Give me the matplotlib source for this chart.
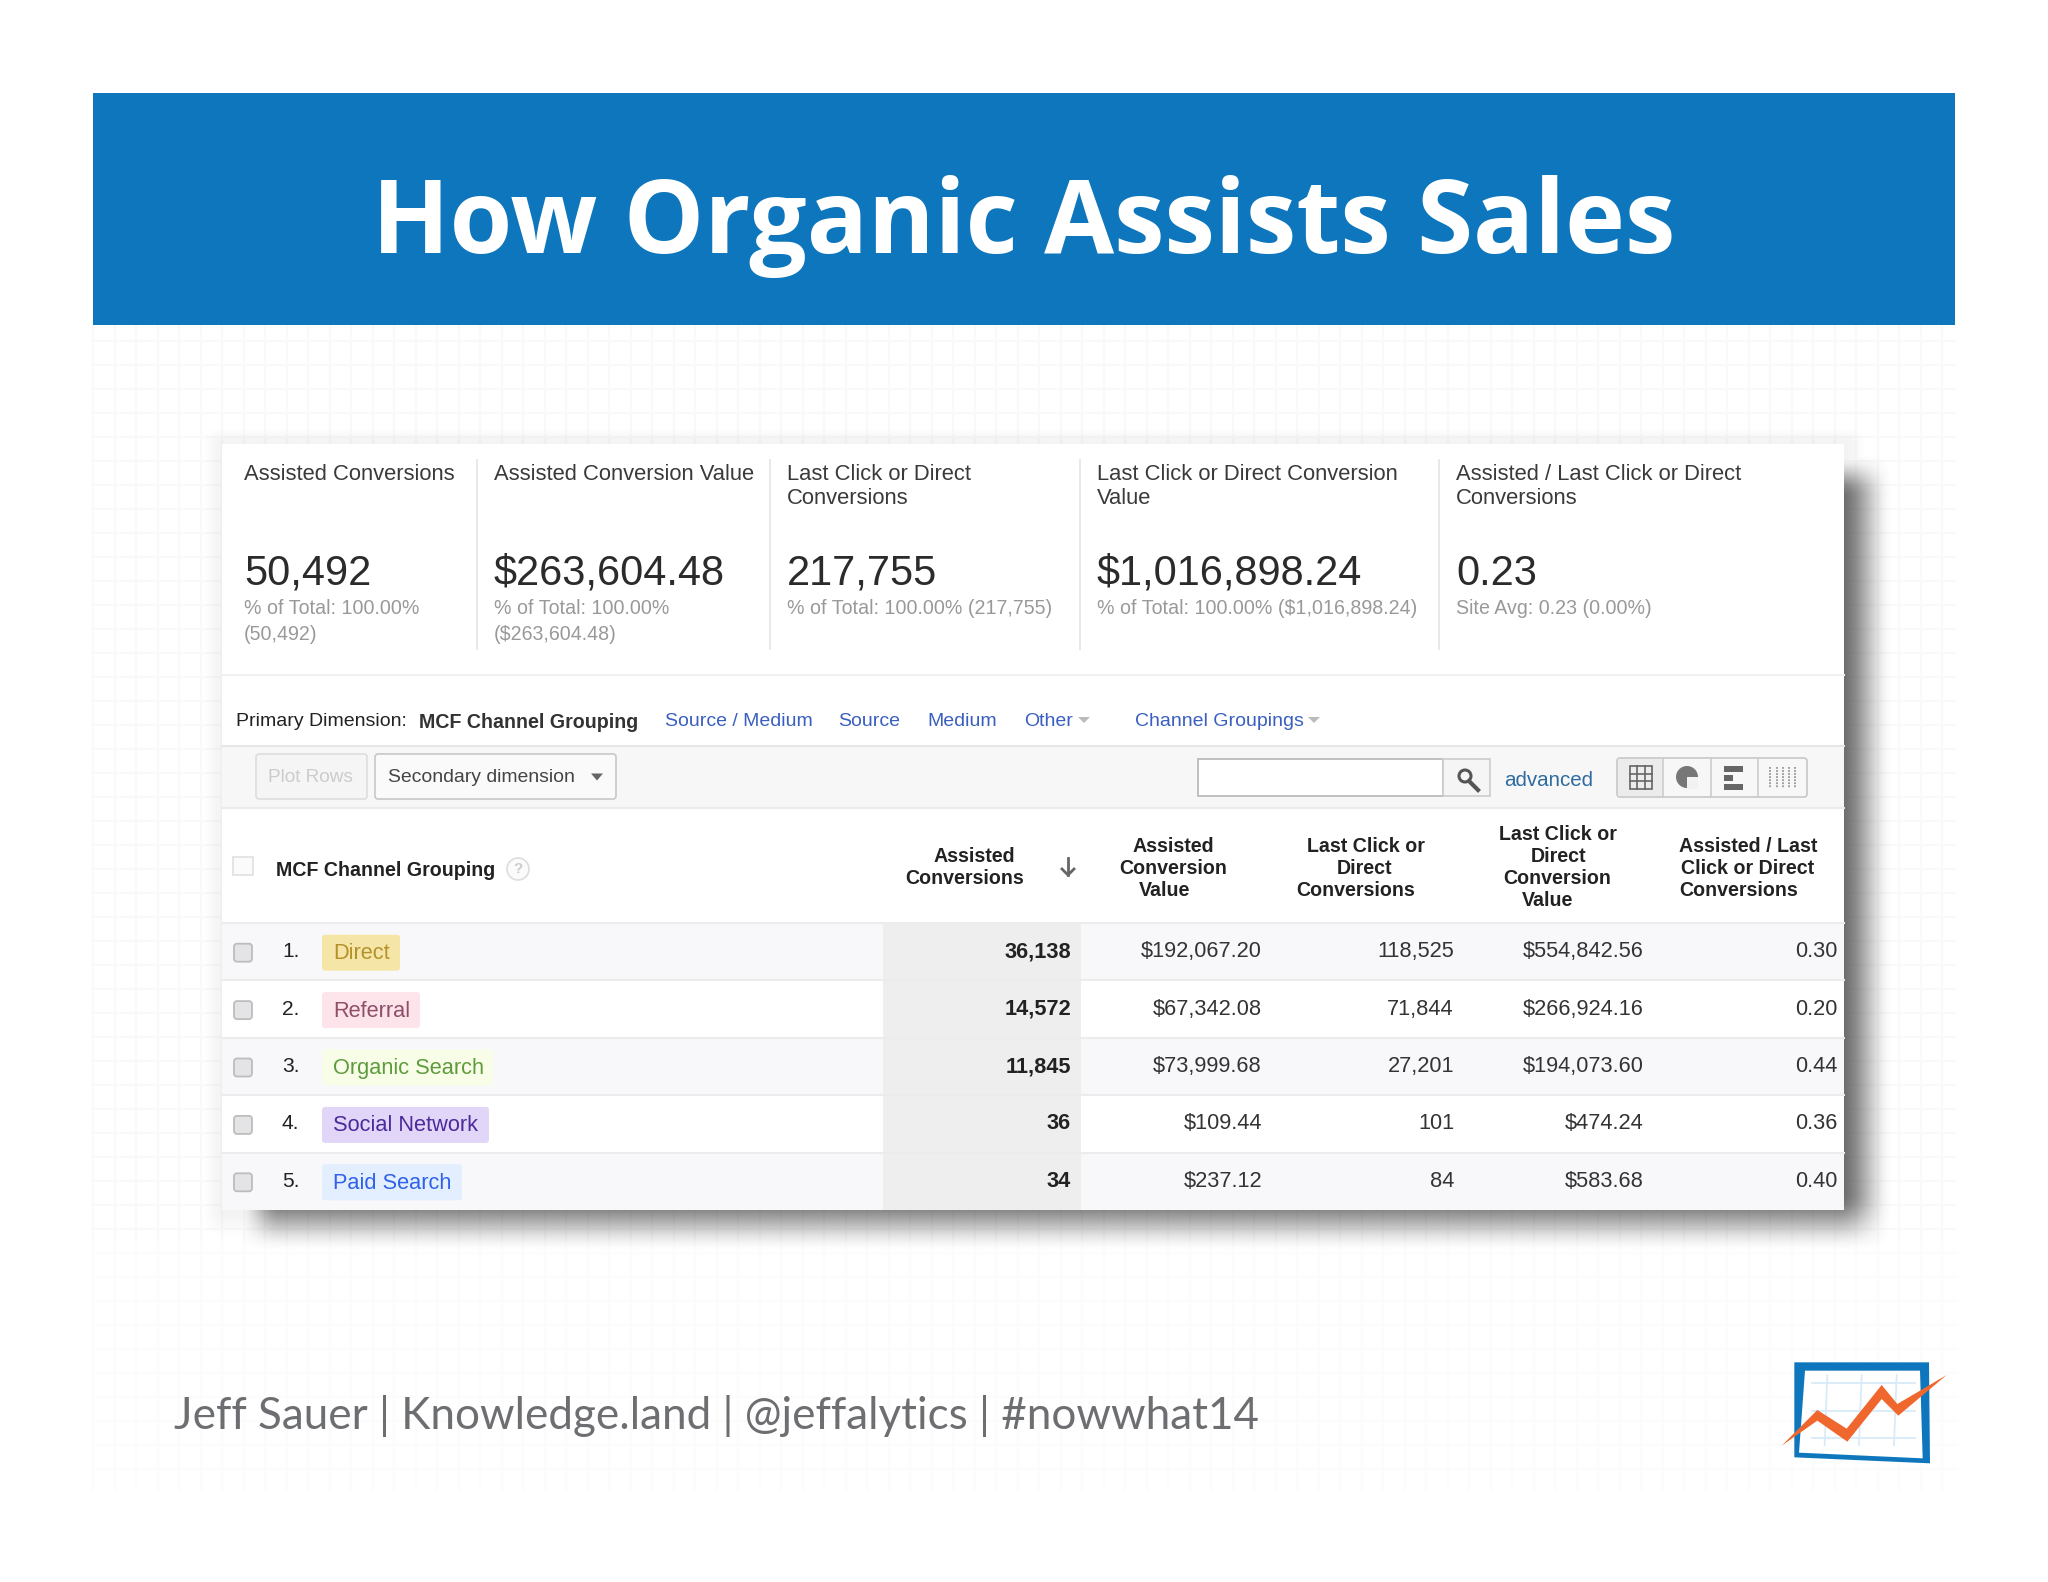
import numpy as np
import matplotlib
matplotlib.use('Agg')
import matplotlib.pyplot as plt
from matplotlib.patches import Rectangle, Polygon, FancyBboxPatch, Circle

# KPI strip
kpi_labels = [['Assisted Conversions'], ['Assisted Conversion Value'], ['Last Click or Direct', 'Conversions'],
              ['Last Click or Direct Conversion', 'Value'], ['Assisted / Last Click or Direct', 'Conversions']]
kpi_values = ['50,492', '$263,604.48', '217,755', '$1,016,898.24', '0.23']
kpi_notes = [['% of Total: 100.00%', '(50,492)'], ['% of Total: 100.00%', '($263,604.48)'],
             ['% of Total: 100.00% (217,755)'], ['% of Total: 100.00% ($1,016,898.24)'], ['Site Avg: 0.23 (0.00%)']]

# table rows
channels = ['Direct', 'Referral', 'Organic Search', 'Social Network', 'Paid Search']
assisted = ['36,138', '14,572', '11,845', '36', '34']
assisted_value = ['$192,067.20', '$67,342.08', '$73,999.68', '$109.44', '$237.12']
last_click = ['118,525', '71,844', '27,201', '101', '84']
last_click_value = ['$554,842.56', '$266,924.16', '$194,073.60', '$474.24', '$583.68']
ratio = ['0.30', '0.20', '0.44', '0.36', '0.40']

tag_bg = ['#f5e6a8', '#fde3ea', '#f8fde8', '#e2d6f8', '#e3eeff']
tag_fg = ['#b3922a', '#8e4f68', '#5f9b3c', '#4b2a9c', '#2f62e8']
tag_right = [400, 420, 493, 489, 462]

FONT = 'Liberation Sans'
BLUE = '#0e76bc'

fig = plt.figure(figsize=(20.48, 15.82), dpi=100)
ax = fig.add_axes([0, 0, 1, 1])
ax.set_xlim(0, 2048)
ax.set_ylim(1582, 0)
ax.axis('off')


def txt(x, y, s, px, color='#333333', ha='left', weight='normal', family=FONT, z=6):
    ax.text(x, y, s, fontsize=px * 0.72, color=color, ha=ha, va='center', fontweight=weight, family=family, zorder=z)


def box(x0, y0, x1, y1, fc, ec='none', lw=0, z=3):
    ax.add_patch(Rectangle((x0, y0), x1 - x0, y1 - y0, fc=fc, ec=ec, lw=lw, zorder=z))


def rbox(x0, y0, x1, y1, fc, ec='none', lw=0, r=3, z=4):
    ax.add_patch(FancyBboxPatch((x0 + r, y0 + r), x1 - x0 - 2 * r, y1 - y0 - 2 * r,
                                boxstyle=f'round,pad={r}', fc=fc, ec=ec, lw=lw, zorder=z))


def tri(x, y, w, h, color):
    ax.add_patch(Polygon([(x - w, y - h), (x + w, y - h), (x, y + h)], fc=color, ec='none', zorder=6))


# background grid, fading towards the bottom
for gx in np.arange(93, 1956, 21.5):
    ax.plot([gx, gx], [325, 1240], color='#f9f9f9', lw=1.6, zorder=0)
    ax.plot([gx, gx], [1240, 1490], color='#fcfcfc', lw=1.6, zorder=0)
for gy in np.arange(341, 1490, 24):
    shade = '#f9f9f9' if gy < 1240 else '#fcfcfc'
    ax.plot([93, 1955], [gy, gy], color=shade, lw=1.6, zorder=0)

# header bar
box(93, 93, 1955, 325, BLUE)
txt(1024, 226, 'How Organic Assists Sales', 101.5, color='white', ha='center', weight='bold', family='Open Sans')

# panel shadow
yy, xx = np.mgrid[420:1290, 195:1930]


def ramp(v):
    v = np.clip(v, 0, 1)
    return v * v * (3 - 2 * v)


fx = ramp((xx - 235) / 45) * ramp((1893 - xx) / 55)
fy = ramp((yy - 452) / 45) * ramp((1252 - yy) / 60)
halo = ramp((xx - 200) / 22) * ramp((yy - 425) / 19) * ramp((1868 - xx) / 22)
shadow = np.zeros(xx.shape + (4,))
shadow[..., :3] = 0.25
shadow[..., 3] = np.maximum(fx * fy * 0.78, halo * ramp((1240 - yy) / 30) * 0.06)
ax.imshow(shadow, extent=(195, 1930, 1290, 420), aspect='auto', zorder=1, interpolation='bilinear')
ax.set_xlim(0, 2048)
ax.set_ylim(1582, 0)

# panel
box(222, 444, 1844, 1210, 'white', z=2)

# KPI strip
kpi_x = [244, 494, 787, 1097, 1456]
for x, labels, value, notes in zip(kpi_x, kpi_labels, kpi_values, kpi_notes):
    for i, line in enumerate(labels):
        txt(x, 474 + i * 25, line, 22, color='#3a3a3a')
    txt(x, 574, value, 41.5, color='#2b2b2b')
    for i, line in enumerate(notes):
        txt(x, 609 + i * 25, line, 19.6, color='#999999')
for x in [477, 770, 1080, 1439]:
    ax.plot([x, x], [460, 649], color='#e6e6e6', lw=1.3, zorder=3)
ax.plot([222, 1844], [675, 675], color='#f0f0f0', lw=1.5, zorder=3)

# dimension row
txt(236, 722, 'Primary Dimension:', 19.5, color='#222222')
txt(419, 722, 'MCF Channel Grouping', 19.6, color='#333333', weight='bold')
LINK = '#3a5fc0'
txt(665, 722, 'Source / Medium', 19.5, color=LINK)
txt(838, 722, 'Source', 19.5, color=LINK)
txt(927, 722, 'Medium', 19.5, color=LINK)
txt(1024, 722, 'Other', 19.5, color=LINK)
tri(1084, 720, 6, 3, '#bbbbbb')
txt(1135, 722, 'Channel Groupings', 19.5, color=LINK)
tri(1314, 720, 6, 3, '#bbbbbb')

# toolbar
box(222, 746, 1844, 808, '#f7f7f7', z=3)
ax.plot([222, 1844], [746, 746], color='#e6e6e6', lw=1.5, zorder=4)
ax.plot([222, 1844], [808, 808], color='#ebebeb', lw=1.5, zorder=4)
rbox(256, 754, 367, 799, '#f5f5f5', ec='#dddddd', lw=1.2)
txt(268, 778, 'Plot Rows', 19, color='#cccccc')
rbox(375, 754, 616, 799, '#fafafa', ec='#c8c8c8', lw=1.2)
txt(388, 778, 'Secondary dimension', 19.4, color='#444444')
tri(597, 777, 6, 3.5, '#666666')

box(1198, 759, 1443, 796, 'white', ec='#b5b5b5', lw=1.2, z=4)
box(1443, 759, 1490, 796, '#f5f5f5', ec='#cccccc', lw=1.2, z=4)
ax.add_patch(Circle((1465, 776), 6, fc='none', ec='#555555', lw=2.2, zorder=6))
ax.plot([1469, 1478], [781, 790], color='#555555', lw=3, zorder=6)
txt(1504, 780, 'advanced', 20.5, color='#2f6a9e')

rbox(1617, 758, 1807, 797, '#f7f7f7', ec='#c8c8c8', lw=1.2)
box(1618, 759, 1663, 796, '#ececec', z=5)
for x in [1663, 1711, 1758]:
    ax.plot([x, x], [758, 797], color='#cccccc', lw=1.2, zorder=6)
# view icons
box(1630, 766, 1652, 789, '#ececec', ec='#666666', lw=1.2, z=6)
for i in [1, 2]:
    ax.plot([1630 + i * 7.3] * 2, [766, 789], color='#666666', lw=1.2, zorder=7)
    ax.plot([1630, 1652], [766 + i * 7.6] * 2, color='#666666', lw=1.2, zorder=7)
ax.add_patch(Circle((1687, 777), 11, fc='#777777', ec='none', zorder=6))
box(1687, 777, 1698, 789, '#f2f2f2', z=7)
for y, x1 in zip([769, 778, 787], [1743, 1733, 1743]):
    box(1724, y - 3, x1, y + 3, '#666666', z=6)
for x in [1770, 1777, 1783, 1789, 1795]:
    ax.plot([x, x], [767, 788], color='#888888', lw=1.1, ls=(0, (1.2, 0.8)), zorder=6)

# table header
box(233, 857, 253, 875, '#fbfbfb', ec='#e0e0e0', lw=1.2, z=4)
txt(276, 870, 'MCF Channel Grouping', 19.6, color='#222222', weight='bold')
ax.add_patch(Circle((518, 869), 11, fc='#fbfbfb', ec='#dddddd', lw=1.2, zorder=5))
txt(518, 869, '?', 15, color='#cccccc', ha='center', weight='bold')
header_lines = [
    ([974, 965], [857, 878], ['Assisted', 'Conversions']),
    ([1173, 1173, 1165], [846, 868, 890], ['Assisted', 'Conversion', 'Value']),
    ([1366, 1365, 1356], [846, 868, 890], ['Last Click or', 'Direct', 'Conversions']),
    ([1558, 1558, 1557, 1548], [835, 857, 879, 901], ['Last Click or', 'Direct', 'Conversion', 'Value']),
    ([1748, 1748, 1739], [846, 868, 890], ['Assisted / Last', 'Click or Direct', 'Conversions']),
]
for xs, ys, lines in header_lines:
    for x, y, line in zip(xs, ys, lines):
        txt(x, y, line, 19.6, color='#222222', ha='center', weight='bold')
# sort arrow
ax.plot([1068, 1068], [858, 875], color='#666666', lw=2, zorder=6)
ax.plot([1062, 1068, 1074], [869, 875, 869], color='#666666', lw=2, zorder=6)

# table rows
row_top = 923
row_h = 57.4
value_cols = [(1262, assisted_value), (1454, last_click), (1644, last_click_value), (1838, ratio)]
for i, name in enumerate(channels):
    y0 = row_top + i * row_h
    yc = y0 + row_h / 2 + 1
    if i % 2 == 0:
        box(222, y0, 1844, y0 + row_h, '#f8f8fa', z=3)
    box(883, y0, 1081, y0 + row_h, '#eeeeee', z=3)
    ax.plot([222, 1844], [y0, y0], color='#ececec', lw=1.5, zorder=4)
    rbox(234, yc - 9, 252, yc + 9, '#e4e4e6', ec='#bdbdbd', lw=1.3, r=3)
    txt(282, yc - 1, f'{i + 1}.', 21, color='#222222')
    rbox(322, yc - 18, tag_right[i], yc + 18, tag_bg[i], r=3)
    txt(333, yc + 1, name, 21.8, color=tag_fg[i])
    txt(1071, yc - 1, assisted[i], 21.8, color='#222222', ha='right', weight='bold')
    for x, col in value_cols:
        txt(x, yc - 1, col[i], 21.8, color='#333333', ha='right')

# footer
txt(174, 1416, 'Jeff Sauer | Knowledge.land | @jeffalytics | #nowwhat14', 44, color='#6d6e71', family='Lato')

# logo
logo_x = np.array([163, 567, 570, 163]) / 3 + 1740
logo_y = np.array([97, 97, 400, 382]) / 3 + 1330
ax.add_patch(Polygon(np.c_[logo_x, logo_y], fc=BLUE, ec='none', zorder=3))
inner_x = np.array([195, 540, 548, 177]) / 3 + 1740
inner_y = np.array([122, 122, 385, 368]) / 3 + 1330
ax.add_patch(Polygon(np.c_[inner_x, inner_y], fc='white', ec='none', zorder=3))
for y in [160, 243, 325]:
    ax.plot(np.array([215, 525]) / 3 + 1740, np.array([y, y]) / 3 + 1330, color='#d8ebf9', lw=1.3, zorder=4)
for x in [262, 365, 470]:
    ax.plot(np.array([x, x - 8]) / 3 + 1740, np.array([135, 345]) / 3 + 1330, color='#d8ebf9', lw=1.3, zorder=4)
line_x = np.array([125, 232, 320, 425, 472, 620, 475, 425, 322, 232]) / 3 + 1740
line_y = np.array([347, 240, 296, 165, 222, 135, 257, 207, 335, 272]) / 3 + 1330
ax.add_patch(Polygon(np.c_[line_x, line_y], fc='#f0672e', ec='none', zorder=5))

fig.savefig('out.png', dpi=100)
